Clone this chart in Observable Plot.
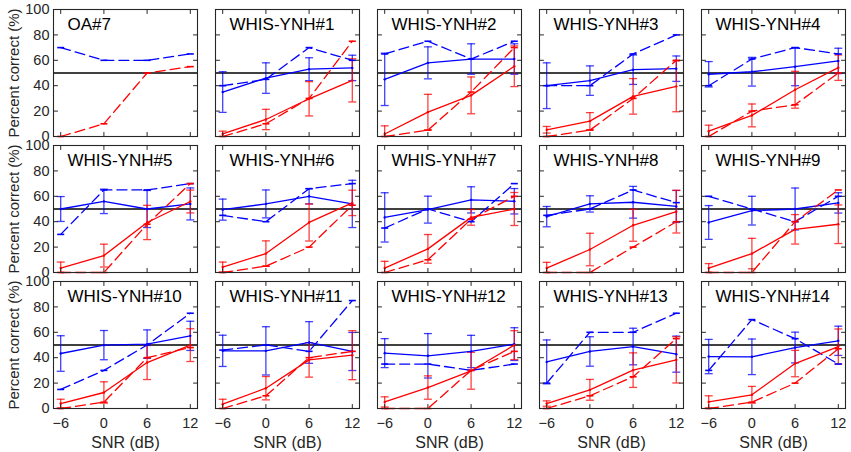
<!DOCTYPE html>
<html><head><meta charset="utf-8">
<script src="https://cdn.jsdelivr.net/npm/d3@7"></script>
<script src="https://cdn.jsdelivr.net/npm/@observablehq/plot@0.6"></script>
<style>body{margin:0;background:#fff;}</style>
</head><body><div id="chart"></div>
<script>
const snr = [-6, 0, 6, 12];
const xDomain = [-7, 13];
const yTicks = [0, 20, 40, 60, 80, 100];
const panels = ["OA#7", "WHIS-YNH#1", "WHIS-YNH#2", "WHIS-YNH#3", "WHIS-YNH#4",
  "WHIS-YNH#5", "WHIS-YNH#6", "WHIS-YNH#7", "WHIS-YNH#8", "WHIS-YNH#9",
  "WHIS-YNH#10", "WHIS-YNH#11", "WHIS-YNH#12", "WHIS-YNH#13", "WHIS-YNH#14"];

// blue solid (mean) and its error
const blueMean = [null,
  [35, 46, 53, 54], [45, 58, 61, 61], [40, 44, 52.6, 53.4], [49, 51, 55, 59.5],
  [50, 56, 50, 54], [49.5, 54, 60, 54], [43.4, 49.5, 57.2, 56.1], [44, 54, 55.3, 52], [39.4, 48.7, 50, 54.8],
  [43.3, 49.9, 50.7, 57.2], [45.4, 45.4, 52, 44.9], [43.6, 41.5, 44.9, 50.7], [36.7, 44.9, 48.8, 42.8], [40.9, 40.7, 48, 53.3]];
const blueErr = [null,
  [16, 12, 9, 10], [20.6, 12.6, 12, 12], [18, 11.6, 11.6, 10], [10, 11.3, 15, 10],
  [9.8, 9.6, 14.6, 12.6], [8.3, 11, 6, 18.6], [19.4, 10.6, 10.3, 10], [8, 6.4, 12.5, 12.6], [13.3, 11.3, 16.5, 8],
  [14, 11.5, 11.2, 11.5], [12.3, 19, 16.4, 15], [11.4, 17.5, 12.7, 12.9], [17.3, 11.6, 14.4, 14.2], [13.5, 14, 12.1, 11.5]];
// blue dashed
const blueDash = [[70, 60, 60, 65],
  [40, 45, 70, 60], [65, 75, 61, 75], [40, 40, 65, 80], [40, 61, 70, 65],
  [30, 65, 65, 70], [45, 40, 66, 70], [35, 50, 40, 70], [45, 50, 65, 55], [60, 50, 40, 60],
  [15, 30, 50, 75], [46, 50, 45, 85], [35, 35, 30, 35], [20, 60, 60, 75], [30, 70, 55, 35]];
// red solid (mean) and its error
const redMean = [null,
  [2, 13.4, 29.7, 44.2], [2, 19.2, 32.4, 55.3], [5.3, 12.1, 31.6, 39.5], [4.2, 16.6, 36.8, 54.2],
  [3.5, 13.3, 39.4, 55.9], [4.3, 14.9, 39.4, 54.8], [3.5, 18.6, 43.4, 50], [3.5, 18.1, 37.2, 47.9], [3.5, 14.9, 34, 38],
  [3.9, 12.6, 36.2, 49.9], [3.4, 16, 38.3, 42], [5.2, 16.5, 29.7, 49.9], [3.9, 14.7, 30.2, 38.3], [5.2, 10.8, 35.4, 48.8]];
const redErr = [null,
  [2.2, 8, 13.5, 17], [6.4, 14, 14.5, 16], [2.6, 6.7, 14, 20], [4.7, 9, 14.5, 10],
  [4.7, 9, 13.5, 9], [3.9, 10, 14.6, 10], [5.3, 11.3, 6.2, 13], [4.5, 12.8, 12.6, 16.8], [3.5, 12, 11.6, 15.2],
  [3.4, 8.4, 13.4, 12.9], [3.9, 9.2, 13.6, 19.3], [4, 9.2, 14.5, 11.4], [2.1, 8.2, 13.6, 18.2], [4.8, 6.6, 10.4, 13.8]];
// red dashed
const redDash = [[0, 10, 50, 55],
  [0, 10, 30, 75], [0, 5, 35, 70], [0, 5, 30, 60], [0, 20, 25, 50],
  [0, 0, 38, 70], [0, 5, 20, 53], [0, 10, 42, 60], [0, 0, 20, 40], [0, 0, 40, 65],
  [0, 5, 40, 48], [0, 10, 40, 45], [0, 0, 30, 45], [0, 10, 25, 55], [0, 5, 20, 47]];

const BLUE = "#0000ff", RED = "#ff0000", INK = "#262626";

const cells = panels.map((name, i) => ({name, col: i % 5, row: Math.floor(i / 5)}));
function solid(means, errs) {
  const out = [];
  cells.forEach((c, i) => {
    if (!means[i]) return;
    snr.forEach((x, j) => out.push({col: c.col, row: c.row, x, y: means[i][j], err: errs[i][j]}));
  });
  return out;
}
function dashed(vals) {
  const out = [];
  cells.forEach((c, i) => snr.forEach((x, j) => out.push({col: c.col, row: c.row, x, y: vals[i][j]})));
  return out;
}
const blueSolid = solid(blueMean, blueErr), redSolid = solid(redMean, redErr);
const blueDashed = dashed(blueDash), redDashed = dashed(redDash);

const capSymbol = {draw(ctx, size) { const r = Math.sqrt(size / Math.PI); ctx.moveTo(-r, 0); ctx.lineTo(r, 0); }};
const tickShape = {draw(ctx, l) { ctx.moveTo(0, 0); ctx.lineTo(0, -l); }};
const F = {fx: "col", fy: "row"};

function errorMarks(data, color) {
  return [
    Plot.ruleX(data, {...F, x: "x", y1: d => d.y - d.err, y2: d => d.y + d.err, stroke: color, strokeOpacity: 0.75, strokeWidth: 1.3, clip: true}),
    Plot.dot(data, {...F, x: "x", y: d => d.y + d.err, symbol: capSymbol, r: 4, stroke: color, strokeOpacity: 0.75, strokeWidth: 1.3, fill: "none", clip: true}),
    Plot.dot(data, {...F, x: "x", y: d => d.y - d.err, symbol: capSymbol, r: 4, stroke: color, strokeOpacity: 0.75, strokeWidth: 1.3, fill: "none", clip: true})
  ];
}
function lineMarks(data, color, dash) {
  return [
    Plot.line(data, {...F, x: "x", y: "y", z: d => d.col + "-" + d.row, stroke: color, strokeWidth: 1.3, strokeDasharray: dash}),
    dash
      ? Plot.dot(data, {...F, x: "x", y: "y", symbol: capSymbol, r: 3.5, stroke: color, strokeWidth: 1.6, fill: "none"})
      : Plot.dot(data, {...F, x: "x", y: "y", r: 1.2, fill: color})
  ];
}

const chart = Plot.plot({
  width: 851, height: 452,
  marginLeft: 51, marginRight: 3, marginTop: 9, marginBottom: 44,
  x: {domain: xDomain},
  y: {domain: [0, 100]},
  fx: {domain: [0, 1, 2, 3, 4], paddingInner: 0.1104, paddingOuter: 0, axis: null},
  fy: {domain: [0, 1, 2], paddingInner: 0.0662, paddingOuter: 0, axis: null},
  facet: {marginTop: 0, marginRight: 0, marginBottom: 0, marginLeft: 0},
  style: {fontFamily: "'Liberation Sans', Arial, sans-serif", background: "#fff"},
  marks: [
    Plot.ruleY([50], {stroke: "black", strokeWidth: 1.3}),
    ...errorMarks(blueSolid, BLUE),
    ...errorMarks(redSolid, RED),
    ...lineMarks(blueSolid, BLUE, null),
    ...lineMarks(blueDashed, BLUE, "10,5"),
    ...lineMarks(redSolid, RED, null),
    ...lineMarks(redDashed, RED, "10,5"),
    Plot.frame({stroke: INK, strokeWidth: 1.1}),
    Plot.vector(yTicks, {x: () => xDomain[0], y: d => d, rotate: 90, length: 4, anchor: "start", shape: tickShape, stroke: INK, strokeWidth: 1}),
    Plot.vector(yTicks, {x: () => xDomain[1], y: d => d, rotate: -90, length: 4, anchor: "start", shape: tickShape, stroke: INK, strokeWidth: 1}),
    Plot.vector(snr, {x: d => d, y: () => 0, rotate: 0, length: 4, anchor: "start", shape: tickShape, stroke: INK, strokeWidth: 1}),
    Plot.vector(snr, {x: d => d, y: () => 100, rotate: 180, length: 4, anchor: "start", shape: tickShape, stroke: INK, strokeWidth: 1}),
    Plot.axisX(snr, {anchor: "bottom", tickSize: 0, tickPadding: 9.5, fontSize: 14.5, color: INK, label: null, facetAnchor: "bottom"}),
    Plot.axisY(yTicks, {anchor: "left", tickSize: 0, tickPadding: 4, fontSize: 14.5, color: INK, label: null, facetAnchor: "left"}),
    Plot.text(cells, {...F, text: "name", frameAnchor: "top-left", textAnchor: "start", lineAnchor: "bottom", dx: 14, dy: 20, fontSize: 17, fill: "black"}),
    Plot.text(cells.filter(c => c.col === 0), {...F, text: () => "Percent correct (%)", frameAnchor: "left", rotate: -90, textAnchor: "middle", lineAnchor: "middle", dx: -39, fontSize: 15, fill: INK}),
    Plot.text(cells.filter(c => c.row === 2), {...F, text: () => "SNR (dB)", frameAnchor: "bottom", lineAnchor: "middle", dy: 34, fontSize: 16, fill: INK})
  ]
});
document.getElementById("chart").appendChild(chart);
</script>
</body></html>
